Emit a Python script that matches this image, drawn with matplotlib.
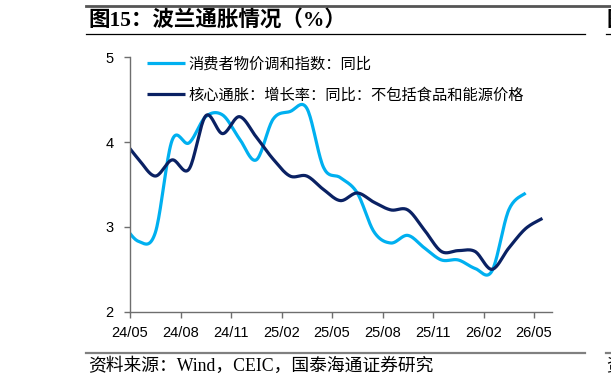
import numpy as np
import matplotlib
matplotlib.use('Agg')
import matplotlib.pyplot as plt
from matplotlib.lines import Line2D

plt.rcParams['font.family'] = ['Liberation Sans', 'Noto Sans CJK SC', 'DejaVu Sans']

tick_labels = ['24/05', '24/08', '24/11', '25/02', '25/05', '25/08', '25/11', '26/02', '26/05']
# monthly values, plotted mid-month; the first point sits left of the axis and is clipped
hicp = [3.06, 2.83, 2.93, 4.02, 3.99, 4.30, 4.32, 4.04, 3.79, 4.27, 4.36, 4.40, 3.70,
        3.58, 3.40, 2.94, 2.81, 2.90, 2.75, 2.61, 2.61, 2.51, 2.48, 3.20, 3.40]
core = [4.05, 3.80, 3.60, 3.79, 3.68, 4.31, 4.10, 4.30, 4.06, 3.80, 3.60, 3.60, 3.44,
        3.31, 3.40, 3.29, 3.20, 3.20, 2.96, 2.71, 2.72, 2.71, 2.50, 2.75, 2.98, 3.10]
hicp_label = '消费者物价调和指数：同比'
core_label = '核心通胀：增长率：同比：不包括食品和能源价格'


def smooth(xs, ys, n=20):
    # bezier smoothing like excel's "smoothed line"
    px = np.concatenate([[xs[0]], xs, [xs[-1]]])
    py = np.concatenate([[ys[0]], ys, [ys[-1]]])
    t = np.linspace(0, 1, n, endpoint=False)
    outx, outy = [], []
    for i in range(1, len(px) - 2):
        x0, y0 = px[i], py[i]
        x3, y3 = px[i + 1], py[i + 1]
        x1 = x0 + (px[i + 1] - px[i - 1]) / 6
        y1 = y0 + (py[i + 1] - py[i - 1]) / 6
        x2 = x3 - (px[i + 2] - px[i]) / 6
        y2 = y3 - (py[i + 2] - py[i]) / 6
        a = (1 - t) ** 3
        b = 3 * (1 - t) ** 2 * t
        c = 3 * (1 - t) * t ** 2
        d = t ** 3
        outx.extend(a * x0 + b * x1 + c * x2 + d * x3)
        outy.extend(a * y0 + b * y1 + c * y2 + d * y3)
    outx.append(px[-2])
    outy.append(py[-2])
    return np.array(outx), np.array(outy)


fig = plt.figure(figsize=(6.11, 3.86), dpi=100)
ax = fig.add_axes([130 / 611, 1 - 311.7 / 386, 421.7 / 611, 254.4 / 386])

x_h = np.arange(len(hicp)) - 0.5
x_c = np.arange(len(core)) - 0.5
sx, sy = smooth(x_h, np.array(hicp))
ax.plot(sx, sy, color='#00B0F0', lw=2.3, label=hicp_label, solid_capstyle='butt')
sx, sy = smooth(x_c, np.array(core))
ax.plot(sx, sy, color='#0A2163', lw=2.3, label=core_label, solid_capstyle='butt')

ax.set_xlim(0, 25.05)
ax.set_ylim(2, 5)
ax.set_yticks([2, 3, 4, 5])
ax.set_xticks(np.arange(0, 25, 3))
ax.set_xticklabels(tick_labels)
for s in ['top', 'right']:
    ax.spines[s].set_visible(False)
for s in ['left', 'bottom']:
    ax.spines[s].set_color('#6e6e6e')
    ax.spines[s].set_linewidth(1.0)
ax.tick_params(axis='both', direction='out', length=4, width=1.0, color='#6e6e6e')
ax.tick_params(axis='y', labelsize=10.5, pad=8)
ax.tick_params(axis='x', labelsize=10.5, pad=6)

ax.legend(loc='upper left', bbox_to_anchor=(0.04, 1.008), frameon=False,
          prop={'family': ['Noto Sans CJK SC'], 'size': 11},
          handlelength=2.5, handletextpad=0.25, labelspacing=0.95, borderpad=0,
          borderaxespad=0)

# page decorations from the report layout
fig.add_artist(Line2D([86 / 611, 1], [1 - 5.5 / 386] * 2, color='#555555', lw=2.0))
fig.add_artist(Line2D([86 / 611, 585 / 611], [1 - 34 / 386] * 2, color='black', lw=0.9))
fig.add_artist(Line2D([606 / 611, 1], [1 - 34 / 386] * 2, color='black', lw=0.9))
fig.add_artist(Line2D([86 / 611, 585 / 611], [1 - 353 / 386] * 2, color='#808080', lw=1.6))
fig.add_artist(Line2D([606 / 611, 1], [1 - 353 / 386] * 2, color='#808080', lw=1.6))

fig.text(88 / 611, 1 - 20 / 386, '图15：波兰通胀情况（%）', fontsize=15.5, fontweight='bold',
         family=['Liberation Serif', 'Noto Sans CJK SC'], va='center', ha='left')
fig.text(606 / 611, 1 - 20 / 386, '图', fontsize=15, fontweight='bold',
         family=['Noto Sans CJK SC'], va='center', ha='left')
fig.text(88 / 611, 1 - 366 / 386, '资料来源：Wind，CEIC，国泰海通证券研究', fontsize=12.8,
         family=['Liberation Serif', 'Noto Sans CJK SC'], va='center', ha='left')
fig.text(606 / 611, 1 - 366 / 386, '资', fontsize=12.5,
         family=['Noto Sans CJK SC'], va='center', ha='left')

fig.savefig('out.png', dpi=100)
